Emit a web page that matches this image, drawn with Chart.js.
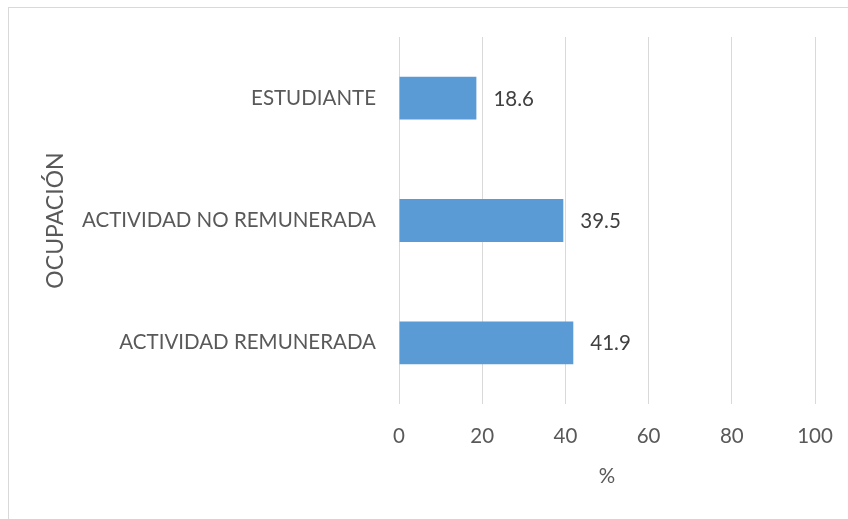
<!DOCTYPE html>
<html>
<head>
<meta charset="utf-8">
<script src="https://cdn.jsdelivr.net/npm/chart.js@4/dist/chart.umd.min.js"></script>
<style>
  html, body { margin: 0; padding: 0; background: #fff; }
  #wrap { position: relative; width: 848px; height: 519px; }
</style>
</head>
<body>
<div id="wrap"><canvas id="c" width="848" height="519"></canvas></div>
<script>
const categories = ["ESTUDIANTE", "ACTIVIDAD NO REMUNERADA", "ACTIVIDAD REMUNERADA"];
const values = [18.6, 39.5, 41.9];
const xTicks = [0, 20, 40, 60, 80, 100];
const xTitle = "%";
const yTitle = "OCUPACIÓN";

const FONT = "Lato, 'Open Sans', sans-serif";

const borderPlugin = {
  id: 'outerBorder',
  beforeDraw(chart) {
    const ctx = chart.ctx;
    ctx.save();
    ctx.fillStyle = '#fff';
    ctx.fillRect(0, 0, chart.width, chart.height);
    ctx.strokeStyle = '#d9d9d9';
    ctx.lineWidth = 1;
    ctx.strokeRect(8.5, 7.5, 900, 600);
    ctx.restore();
  }
};

const labelPlugin = {
  id: 'valueLabels',
  afterDatasetsDraw(chart) {
    const ctx = chart.ctx;
    const meta = chart.getDatasetMeta(0);
    ctx.save();
    ctx.font = "20.5px " + FONT;
    ctx.fillStyle = '#404040';
    ctx.textAlign = 'left';
    ctx.textBaseline = 'middle';
    meta.data.forEach((bar, i) => {
      ctx.fillText(values[i].toFixed(1), bar.x + 17, bar.y + 1);
    });
    ctx.restore();
  }
};

new Chart(document.getElementById('c'), {
  type: 'bar',
  data: {
    labels: categories,
    datasets: [{
      data: values,
      backgroundColor: '#5b9bd5',
      borderWidth: 0,
      barPercentage: 0.35,
      categoryPercentage: 1.0
    }]
  },
  plugins: [borderPlugin, labelPlugin],
  options: {
    indexAxis: 'y',
    responsive: false,
    animation: false,
    events: [],
    layout: { padding: { left: 0, top: 37, right: 33, bottom: 0 } },
    plugins: { legend: { display: false }, tooltip: { enabled: false } },
    scales: {
      x: {
        min: 0, max: 100,
        afterBuildTicks(scale) { scale.ticks = xTicks.map(v => ({ value: v })); },
        afterFit(scale) { scale.height = 115; scale.paddingLeft = 0; scale.paddingRight = 0; },
        grid: { color: '#d9d9d9', lineWidth: 1, drawTicks: false },
        border: { display: false },
        ticks: { padding: 20, color: '#595959', font: { family: FONT, size: 20.5 } },
        title: { display: true, text: xTitle, color: '#595959', font: { family: FONT, size: 20.5 }, padding: { top: 0, bottom: 30 } }
      },
      y: {
        afterFit(scale) { scale.width = 399; scale.paddingTop = 0; scale.paddingBottom = 0; },
        grid: { display: false, drawTicks: false },
        border: { display: false },
        ticks: { padding: 23, color: '#595959', font: { family: FONT, size: 20.5 } },
        title: { display: true, text: yTitle, color: '#595959', font: { family: FONT, size: 23 }, padding: { top: 42, bottom: 0 } }
      }
    }
  }
});
</script>
</body>
</html>
